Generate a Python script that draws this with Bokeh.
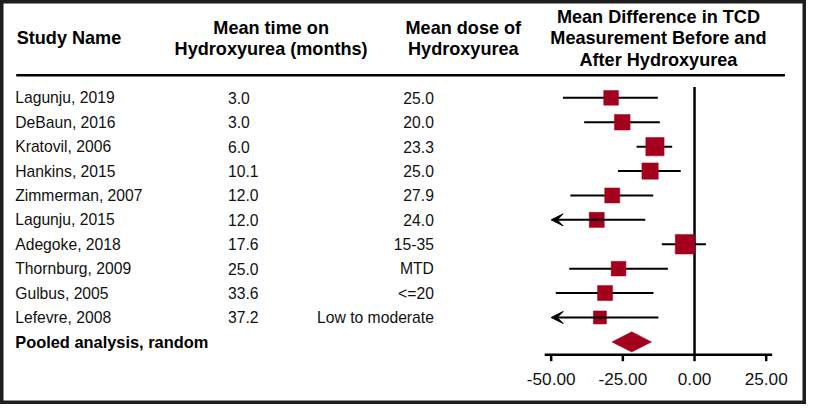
from bokeh.plotting import figure
from bokeh.models import Range1d, ColumnDataSource, Arrow, VeeHead
from bokeh.core.properties import value
from bokeh.embed import file_html
from bokeh.resources import INLINE
import math

# ---------------- data ----------------
studies = ["Lagunju, 2019", "DeBaun, 2016", "Kratovil, 2006", "Hankins, 2015",
           "Zimmerman, 2007", "Lagunju, 2015", "Adegoke, 2018", "Thornburg, 2009",
           "Gulbus, 2005", "Lefevre, 2008"]
time_months = ["3.0", "3.0", "6.0", "10.1", "12.0", "12.0", "17.6", "25.0", "33.6", "37.2"]
dose = ["25.0", "20.0", "23.3", "25.0", "27.9", "24.0", "15-35", "MTD", "<=20", "Low to moderate"]
mean_diff = [-29.1, -25.2, -13.8, -15.5, -28.7, -34.1, -3.3, -26.5, -31.2, -33.0]
ci_low = [-45.9, -38.5, -20.2, -26.7, -43.3, -51.0, -11.4, -43.7, -48.4, -53.4]
ci_high = [-12.8, -12.1, -7.8, -4.8, -14.4, -17.2, 4.0, -9.3, -14.3, -12.6]
weights = [9.0, 10.2, 13.9, 11.1, 9.4, 9.4, 16.0, 9.0, 9.4, 7.1]
pooled_label = "Pooled analysis, random"
pooled_est = -21.9
pooled_low = -28.8
pooled_high = -15.0
ticks = [-50, -25, 0, 25]
axis_min = -50

headers_study = ["Study Name"]
headers_time = ["Mean time on", "Hydroxyurea (months)"]
headers_dose = ["Mean dose of", "Hydroxyurea"]
headers_md = ["Mean Difference in TCD", "Measurement Before and", "After Hydroxyurea"]

# ---------------- layout helpers (reference pixel -> data) ----------------
W, H = 806, 404
REF_W, REF_H = 822, 420
ZERO_X, PX_PER_UNIT = 707.8, 2.924
ROW0_Y, ROW_H = 101.2, 25.37
FS = W / REF_W


def X(xr):
    return (xr - ZERO_X) / PX_PER_UNIT


def Y(yr):
    return (yr - ROW0_Y) / ROW_H


p = figure(width=W, height=H, x_range=Range1d(X(0), X(REF_W)),
           y_range=Range1d(Y(REF_H), Y(0)),
           toolbar_location=None, output_backend="svg",
           x_axis_location=None, y_axis_location=None, min_border=0)
p.xgrid.visible = False
p.ygrid.visible = False
p.background_fill_color = "white"
p.border_fill_color = "white"
p.outline_line_color = "#1e1e1e"
p.outline_line_width = 6

FONT = value("Liberation Sans")
RED = "#A3001E"

n = len(studies)
rows = list(range(n))


def fpx(v):
    return f"{v * FS:.1f}px"


# header texts
p.text(x=[X(16.5)], y=[Y(39.5)], text=headers_study, text_font=FONT,
       text_font_size=fpx(18.5), text_font_style="bold", text_align="left",
       text_baseline="middle", text_color="#000")
p.text(x=[X(276)] * 2, y=[Y(28.3), Y(50)], text=headers_time, text_font=FONT,
       text_font_size=fpx(18.5), text_font_style="bold", text_align="center",
       text_baseline="middle", text_color="#000")
p.text(x=[X(472)] * 2, y=[Y(28.3), Y(50)], text=headers_dose, text_font=FONT,
       text_font_size=fpx(18.5), text_font_style="bold", text_align="center",
       text_baseline="middle", text_color="#000")
p.text(x=[X(671)] * 3, y=[Y(17.3), Y(39.3), Y(61.7)], text=headers_md, text_font=FONT,
       text_font_size=fpx(18.5), text_font_style="bold", text_align="center",
       text_baseline="middle", text_color="#000")

# header rule
p.segment(x0=[X(16)], y0=[Y(77.7)], x1=[X(800)], y1=[Y(77.7)],
          line_color="black", line_width=2.6)

# body columns
src = ColumnDataSource(dict(
    row=rows, study=studies, time=time_months, dose=dose,
    md=mean_diff, lo=ci_low, hi=ci_high,
    lo_c=[max(v, axis_min) for v in ci_low],
    size=[5 * math.sqrt(w) * FS for w in weights],
))
p.text(x=X(15), y="row", text="study", source=src, text_font=FONT,
       text_font_size=fpx(16), text_align="left", text_baseline="middle", text_color="#111")
p.text(x=X(232), y="row", text="time", source=src, text_font=FONT,
       text_font_size=fpx(16), text_align="left", text_baseline="middle", text_color="#111")
p.text(x=X(442), y="row", text="dose", source=src, text_font=FONT,
       text_font_size=fpx(16), text_align="right", text_baseline="middle", text_color="#111")

# pooled label
p.text(x=[X(15)], y=[n], text=[pooled_label], text_font=FONT,
       text_font_size=fpx(16.7), text_font_style="bold", text_align="left",
       text_baseline="middle", text_color="#000")

# zero line
axis_y = Y(368.3)
p.segment(x0=[0], y0=[Y(90)], x1=[0], y1=[axis_y], line_color="black", line_width=2.5)

# confidence intervals (not clipped)
in_idx = [i for i in rows if ci_low[i] >= axis_min]
out_idx = [i for i in rows if ci_low[i] < axis_min]
p.segment(x0=[ci_low[i] for i in in_idx], y0=in_idx,
          x1=[ci_high[i] for i in in_idx], y1=in_idx,
          line_color="black", line_width=2)
# clipped intervals with arrows
arr_src = ColumnDataSource(dict(
    xs=[ci_high[i] for i in out_idx], xe=[axis_min for i in out_idx],
    y=out_idx))
p.add_layout(Arrow(x_start="xs", y_start="y", x_end="xe", y_end="y", source=arr_src,
                   line_color="black", line_width=2,
                   end=VeeHead(size=12, fill_color="black", line_color="black", line_width=1)))

# squares
p.scatter(x="md", y="row", size="size", marker="square", source=src,
          fill_color=RED, line_color=RED, line_width=0.5)

# pooled diamond
hh = 10.5 / ROW_H
p.patch(x=[pooled_low, pooled_est, pooled_high, pooled_est],
        y=[n, n - hh, n, n + hh], fill_color=RED, line_color=RED, line_width=0.5)

# x axis (manual)
p.segment(x0=[X(555)], y0=[axis_y], x1=[X(787)], y1=[axis_y], line_color="black", line_width=2.5)
p.segment(x0=ticks, y0=[axis_y] * len(ticks), x1=ticks, y1=[Y(375)] * len(ticks),
          line_color="black", line_width=2.5)
p.text(x=ticks, y=[Y(393.5)] * len(ticks), text=[f"{t:.2f}" for t in ticks], text_font=FONT,
       text_font_size=fpx(17.5), text_align="center", text_baseline="middle", text_color="#111")

open("out.html", "w").write(file_html(p, INLINE))
